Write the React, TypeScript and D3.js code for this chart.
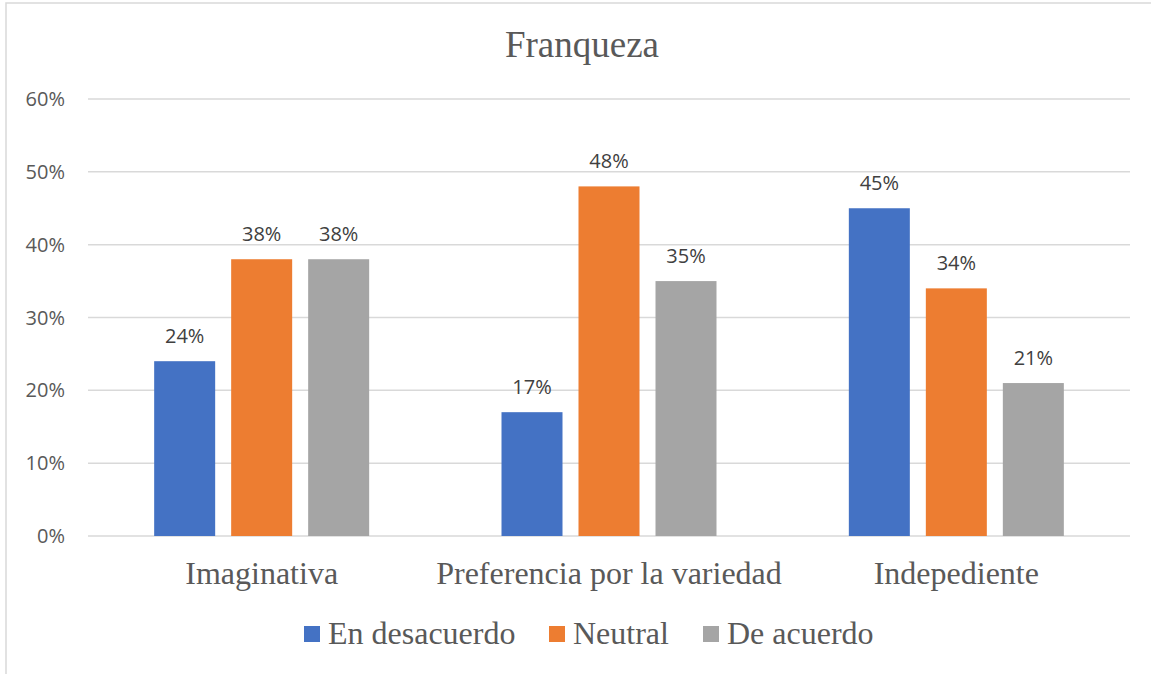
import React from "react";
import * as d3 from "d3";

const categories = ["Imaginativa", "Preferencia por la variedad", "Indepediente"];
const seriesNames = ["En desacuerdo", "Neutral", "De acuerdo"];
const seriesColors = ["#4472C4", "#ED7D31", "#A5A5A5"];
const enDesacuerdo = [0.24, 0.17, 0.45];
const neutral = [0.38, 0.48, 0.34];
const deAcuerdo = [0.38, 0.35, 0.21];
const yTicks = [0, 0.1, 0.2, 0.3, 0.4, 0.5, 0.6];

const W = 1151;
const H = 674;

export default function App() {
  const values = [enDesacuerdo, neutral, deAcuerdo];
  const left = 88, right = 1130, top = 99, bottom = 536;
  const x = d3.scaleBand<string>().domain(categories).range([left, right]).paddingInner(0).paddingOuter(0);
  const y = d3.scaleLinear().domain([0, 0.6]).range([bottom, top]);
  const barW = 61;
  const step = 77;
  const fmt = d3.format(".0%");
  const sans = "'Open Sans', 'Liberation Sans', Arial, sans-serif";
  const serif = "'Liberation Serif', 'Times New Roman', serif";

  const legendItems = [
    { name: seriesNames[0], x: 304 },
    { name: seriesNames[1], x: 549 },
    { name: seriesNames[2], x: 703 },
  ];

  return (
    <svg width={W} height={H} style={{ position: "absolute", left: 0, top: 0 }}>
      <rect x={0} y={0} width={W} height={H} fill="#fff" />
      <rect x={6} y={3} width={W + 20} height={H + 20} fill="#fff" stroke="#d9d9d9" strokeWidth={1.5} />
      <text x={582} y={57} textAnchor="middle" fontFamily={serif} fontSize={37} fill="#595959">Franqueza</text>
      {yTicks.map((t) => (
        <g key={t}>
          <line x1={left} x2={right} y1={y(t)} y2={y(t)} stroke="#d9d9d9" strokeWidth={1.5} />
          <text x={65} y={y(t) + 7} textAnchor="end" fontFamily={sans} fontSize={20} fill="#595959">{fmt(t)}</text>
        </g>
      ))}
      {categories.map((c, ci) => {
        const cx = (x(c) as number) + x.bandwidth() / 2;
        return (
          <g key={c}>
            {values.map((arr, si) => {
              const bx = cx + (si - 1) * step - barW / 2;
              const v = arr[ci];
              return (
                <g key={si}>
                  <rect x={bx} y={y(v)} width={barW} height={y(0) - y(v)} fill={seriesColors[si]} />
                  <text x={bx + barW / 2} y={y(v) - 18} textAnchor="middle" fontFamily={sans} fontSize={20} fill="#404040">{fmt(v)}</text>
                </g>
              );
            })}
            <text x={cx} y={584} textAnchor="middle" fontFamily={serif} fontSize={32} fill="#595959">{c}</text>
          </g>
        );
      })}
      {legendItems.map((l, i) => (
        <g key={l.name}>
          <rect x={l.x} y={626} width={16} height={16} fill={seriesColors[i]} />
          <text x={l.x + 24} y={644} fontFamily={serif} fontSize={32} fill="#595959">{l.name}</text>
        </g>
      ))}
    </svg>
  );
}
